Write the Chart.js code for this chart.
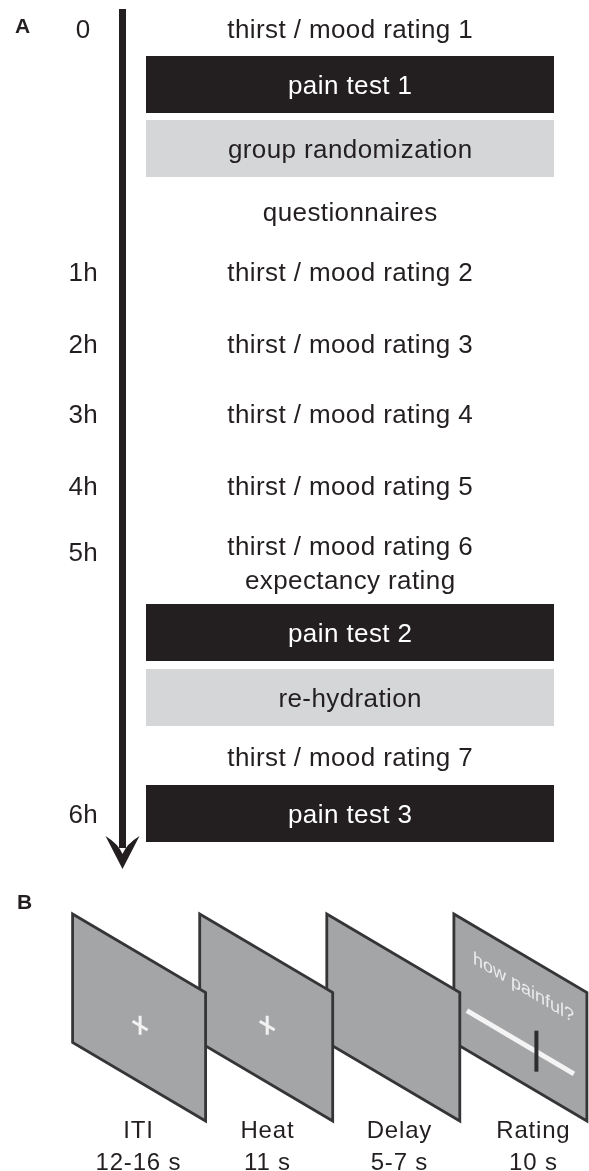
<!DOCTYPE html>
<html>
<head>
<meta charset="utf-8">
<script src="https://cdn.jsdelivr.net/npm/chart.js@4.4.1/dist/chart.umd.min.js"></script>
<style>
html,body{margin:0;padding:0;background:#fff;}
#c{display:block;}
</style>
</head>
<body>
<canvas id="c" width="589" height="1171"></canvas>
<script>
// ---------- DATA ----------
const stepLabels = [
  ["thirst / mood rating 1"],
  ["pain test 1"],
  ["group randomization"],
  ["questionnaires"],
  ["thirst / mood rating 2"],
  ["thirst / mood rating 3"],
  ["thirst / mood rating 4"],
  ["thirst / mood rating 5"],
  ["thirst / mood rating 6", "expectancy rating"],
  ["pain test 2"],
  ["re-hydration"],
  ["thirst / mood rating 7"],
  ["pain test 3"]
];
const stepKinds = ["text","pain","group","text","text","text","text","text","text","pain","group","text","pain"];
const timeLabels = ["0","","","","1h","2h","3h","4h","5h","","","","6h"];
const phaseNames = ["ITI","Heat","Delay","Rating"];
const phaseDurations = ["12-16 s","11 s","5-7 s","10 s"];
const phaseContent = ["cross","cross","blank","rating"];
const ratingQuestion = "how painful?";
const panelLetters = ["A","B"];

// ---------- LAYOUT (pixel units of the chart's x/y scales) ----------
const L = {
  rowCenters: [29, 84.5, 148.5, 212, 272, 344, 414, 486, 546, 632.5, 697.5, 757, 813.5],
  lineGap: 34,
  timeCenters: {8: 552},
  boxHalf: 28.5,
  boxLeft: 146, boxRight: 554, textX: 350,
  timeX: 83,
  arrowX: 122.5, arrowW: 7, arrowTop: 9, arrowTip: 869, arrowWing: 836, arrowHalf: 17,
  scrLeft0: 72.6, scrStep: 127.1, scrW: 133, scrTop: 914, scrH: 128.5, scrShear: 0.59,
  phaseX: [138, 267, 399, 533], phaseBase1: 1138, phaseBase2: 1170
};
const FONT = '"Liberation Sans", Arial, Helvetica, sans-serif';
const C = {ink:'#231f20', grey:'#d5d6d8', screen:'#a4a5a7', screenEdge:'#353537'};

function spaced(ctx, text, x, y, sp) {
  ctx.letterSpacing = sp + 'px';
  const w = ctx.measureText(text).width - sp;
  const al = ctx.textAlign;
  ctx.textAlign = 'left';
  ctx.fillText(text, x - w / 2, y);
  ctx.textAlign = al;
  ctx.letterSpacing = '0px';
}

const diagram = {
  id: 'diagram',
  afterDraw(chart) {
    const ctx = chart.ctx, xs = chart.scales.x, ys = chart.scales.y;
    const X = v => xs.getPixelForValue(v), Y = v => ys.getPixelForValue(v);
    ctx.save();
    ctx.textAlign = 'center';
    ctx.textBaseline = 'alphabetic';

    // panel letters
    ctx.fillStyle = C.ink;
    ctx.font = 'bold 21px ' + FONT;
    ctx.textAlign = 'left';
    ctx.fillText(panelLetters[0], X(15), Y(33));
    ctx.fillText(panelLetters[1], X(17), Y(909));
    ctx.textAlign = 'center';

    // arrow
    ctx.fillStyle = C.ink;
    ctx.fillRect(X(L.arrowX - L.arrowW/2), Y(L.arrowTop), X(L.arrowW) - X(0), Y(L.arrowWing + 12) - Y(L.arrowTop));
    ctx.beginPath();
    ctx.moveTo(X(L.arrowX), Y(L.arrowTip));
    ctx.lineTo(X(L.arrowX - L.arrowHalf), Y(L.arrowWing));
    ctx.quadraticCurveTo(X(L.arrowX - 4), Y(L.arrowWing + 8), X(L.arrowX), Y(L.arrowWing + 18));
    ctx.quadraticCurveTo(X(L.arrowX + 4), Y(L.arrowWing + 8), X(L.arrowX + L.arrowHalf), Y(L.arrowWing));
    ctx.closePath();
    ctx.fill();

    // steps
    ctx.font = '26px ' + FONT;
    stepLabels.forEach((lines, i) => {
      const cy = L.rowCenters[i];
      const kind = stepKinds[i];
      if (kind !== 'text') {
        ctx.fillStyle = kind === 'pain' ? C.ink : C.grey;
        ctx.fillRect(X(L.boxLeft), Y(cy - L.boxHalf), X(L.boxRight) - X(L.boxLeft), Y(cy + L.boxHalf) - Y(cy - L.boxHalf));
      }
      ctx.fillStyle = kind === 'pain' ? '#ffffff' : C.ink;
      lines.forEach((t, k) => spaced(ctx, t, X(L.textX), Y(cy + 9 + k * L.lineGap), 0.4));
      if (timeLabels[i]) {
        ctx.fillStyle = C.ink;
        const ty = L.timeCenters[i] !== undefined ? L.timeCenters[i] : cy;
        spaced(ctx, timeLabels[i], X(L.timeX), Y(ty + 9), 0.3);
      }
    });

    // panel B screens (back to front)
    for (let i = phaseNames.length - 1; i >= 0; i--) {
      const left = L.scrLeft0 + i * L.scrStep;
      const sh = L.scrShear;
      const P = (u, v) => [X(left + u), Y(L.scrTop + v + sh * u)];
      ctx.beginPath();
      let p = P(0, 0); ctx.moveTo(p[0], p[1]);
      p = P(L.scrW, 0); ctx.lineTo(p[0], p[1]);
      p = P(L.scrW, L.scrH); ctx.lineTo(p[0], p[1]);
      p = P(0, L.scrH); ctx.lineTo(p[0], p[1]);
      ctx.closePath();
      ctx.fillStyle = C.screen;
      ctx.fill();
      ctx.lineWidth = 2.8;
      ctx.strokeStyle = C.screenEdge;
      ctx.lineJoin = 'miter';
      ctx.stroke();

      const kind = phaseContent[i];
      if (kind === 'cross') {
        ctx.strokeStyle = '#f2f2f2';
        ctx.lineWidth = 3;
        ctx.lineCap = 'butt';
        ctx.beginPath();
        let a = P(60, 71.8), b = P(75, 71.8);
        ctx.moveTo(a[0], a[1]); ctx.lineTo(b[0], b[1]);
        a = P(67.5, 62); b = P(67.5, 81);
        ctx.moveTo(a[0], a[1]); ctx.lineTo(b[0], b[1]);
        ctx.stroke();
      } else if (kind === 'rating') {
        ctx.strokeStyle = '#f4f4f4';
        ctx.lineWidth = 5;
        ctx.beginPath();
        let a = P(13, 89), b = P(120, 89);
        ctx.moveTo(a[0], a[1]); ctx.lineTo(b[0], b[1]);
        ctx.stroke();
        ctx.strokeStyle = '#2e2e30';
        ctx.lineWidth = 4;
        ctx.beginPath();
        a = P(82.5, 68); b = P(82.5, 109);
        ctx.moveTo(a[0], a[1]); ctx.lineTo(b[0], b[1]);
        ctx.stroke();
        ctx.save();
        const o = P(19, 38);
        ctx.setTransform(1, sh, 0, 1, o[0], o[1]);
        ctx.fillStyle = '#ececec';
        ctx.font = '18px ' + FONT;
        ctx.textAlign = 'left';
        ctx.fillText(ratingQuestion, 0, 0);
        ctx.restore();
      }
    }

    // phase labels
    ctx.fillStyle = C.ink;
    ctx.font = '24px ' + FONT;
    phaseNames.forEach((n, i) => {
      spaced(ctx, n, X(L.phaseX[i]), Y(L.phaseBase1), 0.8);
      spaced(ctx, phaseDurations[i], X(L.phaseX[i]), Y(L.phaseBase2), 0.8);
    });
    ctx.restore();
  }
};

new Chart(document.getElementById('c'), {
  type: 'scatter',
  data: { datasets: [{ data: [], pointRadius: 0 }] },
  options: {
    responsive: false,
    animation: false,
    devicePixelRatio: 1,
    layout: { padding: 0 },
    plugins: { legend: { display: false }, tooltip: { enabled: false } },
    scales: {
      x: { type: 'linear', min: 0, max: 589, display: false },
      y: { type: 'linear', min: 0, max: 1171, reverse: true, display: false }
    }
  },
  plugins: [diagram]
});
</script>
</body>
</html>
